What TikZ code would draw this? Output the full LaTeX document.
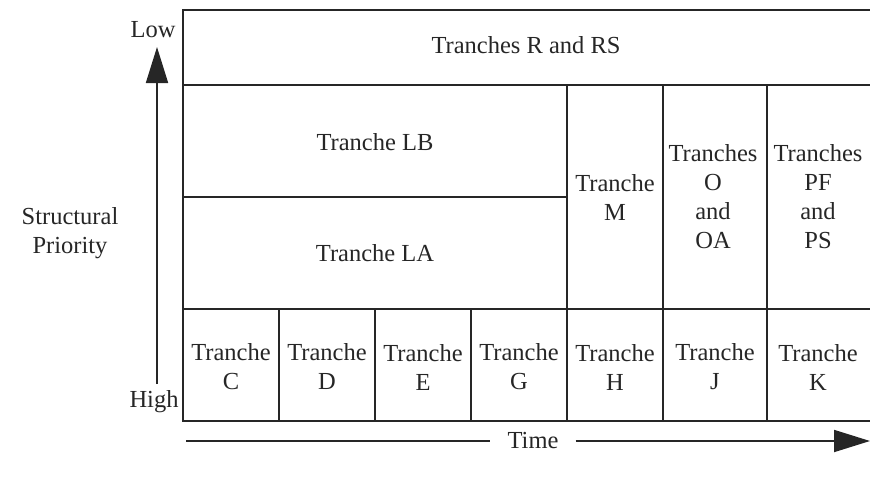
\documentclass[tikz,border=0pt]{standalone}
\usepackage{fontspec}
\setmainfont{Liberation Serif}
\usetikzlibrary{arrows.meta}
\begin{document}
\begin{tikzpicture}[x=1pt,y=-1pt,
  grid/.style={line width=1.8pt, color=black!85},
  lbl/.style={font=\fontsize{24.5}{29}\selectfont, align=center, inner sep=0pt, text=black!85},
  axis/.style={line width=1.8pt, color=black!85},
  tip/.style={-{Triangle[length=36pt,width=22pt]}}]
\useasboundingbox (0,0) rectangle (870,479);
% grid
\draw[grid] (870,10) -- (183,10) -- (183,421) -- (870,421);
\draw[grid] (183,85) -- (870,85);
\draw[grid] (183,309) -- (870,309);
\draw[grid] (183,197) -- (567,197);
\draw[grid] (567,85) -- (567,421);
\draw[grid] (663,85) -- (663,421);
\draw[grid] (767,85) -- (767,421);
\foreach \x in {279,375,471} \draw[grid] (\x,309) -- (\x,421);
% texts
\node[lbl] (rrs) at (526,45) {Tranches R and RS};
\node[lbl] (lb) at (375,142) {Tranche LB};
\node[lbl] (la) at (375,253) {Tranche LA};
\node[lbl] (m) at (615,197) {Tranche\\M};
\node[lbl] (o) at (713,197) {Tranches\\O\\and\\OA};
\node[lbl] (p) at (818,197) {Tranches\\PF\\and\\PS};
\node[lbl] (c) at (231,367) {Tranche\\C};
\node[lbl] (d) at (327,367) {Tranche\\D};
\node[lbl] (e) at (423,367) {Tranche\\E};
\node[lbl] (g) at (519,367) {Tranche\\G};
\node[lbl] (h) at (615,367) {Tranche\\H};
\node[lbl] (j) at (715,367) {Tranche\\J};
\node[lbl] (k) at (818,367) {Tranche\\K};
% axes
\node[lbl] (low) at (153,30) {Low};
\node[lbl] (high) at (154,402) {High};
\node[lbl] (sp) at (70,233) {Structural\\Priority};
\coordinate (vstart) at (157,384);
\coordinate (vend) at (157,47);
\draw[axis,tip] (vstart) -- (vend);
\node[lbl, inner xsep=17pt] (time) at (533,441) {Time};
\coordinate (hstart) at (186,441);
\coordinate (hend) at (870,441);
\draw[axis] (hstart) -- (time.west);
\draw[axis,tip] (time.east) -- (hend);
\end{tikzpicture}
\end{document}
